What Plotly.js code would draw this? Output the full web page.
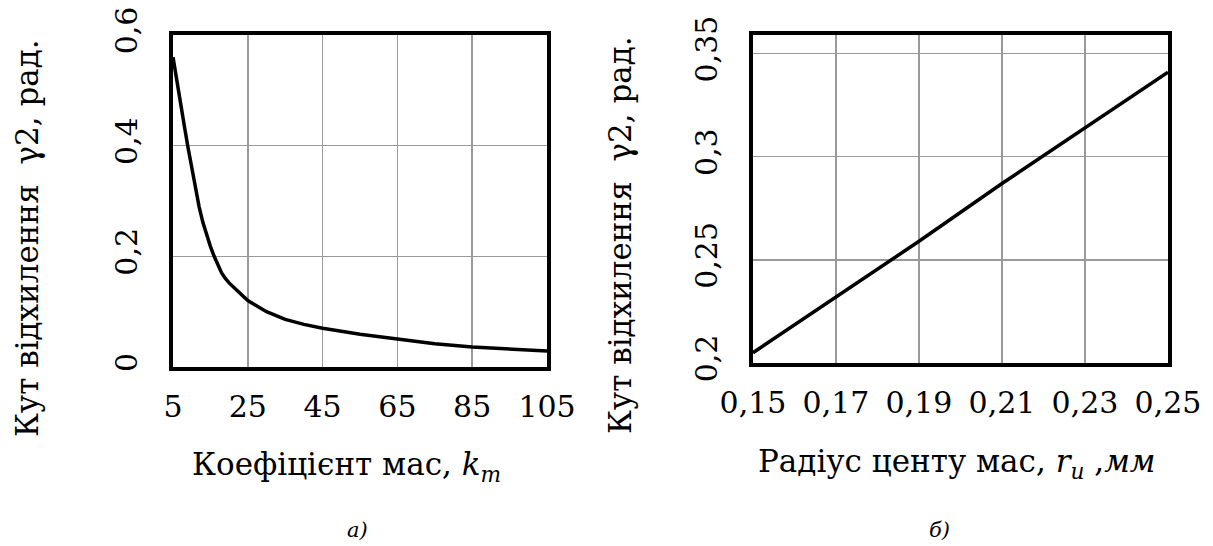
<!DOCTYPE html>
<html>
<head>
<meta charset="utf-8">
<script src="https://cdn.plot.ly/plotly-3.0.1.min.js"></script>
<style>html,body{margin:0;padding:0;background:#fff;}#chart{width:1213px;height:546px;}</style>
</head>
<body>
<div id="chart"></div>
<script>
// Left panel: deflection angle vs mass coefficient
const kmValues = [5, 6, 7, 8, 9, 10, 11, 12, 13, 14, 15, 16, 17, 18, 19, 20, 22, 25, 30, 35, 40, 45, 55, 65, 75, 85, 95, 105];
const gammaByKm = [0.56, 0.522, 0.479, 0.437, 0.397, 0.36, 0.323, 0.289, 0.261, 0.238, 0.218, 0.2, 0.183, 0.17, 0.16, 0.152, 0.139, 0.12, 0.1, 0.086, 0.077, 0.07, 0.059, 0.05, 0.042, 0.036, 0.032, 0.029];
// Right panel: deflection angle vs radius of centre of mass
const radiusValues = [0.15, 0.17, 0.19, 0.21, 0.23, 0.25];
const gammaByRadius = [0.205, 0.232, 0.259, 0.287, 0.314, 0.341];

// Tick labels
const leftXTicks = [5, 25, 45, 65, 85, 105];
const leftXLabels = ["5", "25", "45", "65", "85", "105"];
const leftYTicks = [0, 0.2, 0.4, 0.6];
const leftYLabels = ["0", "0,2", "0,4", "0,6"];
const rightXTicks = [0.15, 0.17, 0.19, 0.21, 0.23, 0.25];
const rightXLabels = ["0,15", "0,17", "0,19", "0,21", "0,23", "0,25"];
const rightYTicks = [0.2, 0.25, 0.3, 0.35];
const rightYLabels = ["0,2", "0,25", "0,3", "0,35"];

const W = 1213, H = 546;
const FONT = "DejaVu Serif";
const tickFont = {family: FONT, size: 30, color: "#000"};
const titleFont = {family: FONT, size: 31, color: "#000"};

function xAx(domain, range, vals, text) {
  return {
    domain: domain, range: range, tickvals: vals, ticktext: text,
    showgrid: true, gridcolor: "#9a9a9a", gridwidth: 1.5,
    showline: true, mirror: true, linecolor: "#000", linewidth: 4,
    zeroline: false, ticks: "", tickfont: tickFont, ticklabelstandoff: 10,
    fixedrange: true
  };
}
function yAx(domain, range, vals, text, anchor) {
  return {
    domain: domain, range: range, tickvals: vals, ticktext: text, anchor: anchor,
    showgrid: true, gridcolor: "#9a9a9a", gridwidth: 1.5,
    showline: true, mirror: true, linecolor: "#000", linewidth: 4,
    zeroline: false, ticks: "", tickfont: tickFont, tickangle: -90, ticklabelstandoff: 20,
    fixedrange: true
  };
}

const traces = [
  {x: kmValues, y: gammaByKm, xaxis: "x", yaxis: "y", type: "scatter", mode: "lines",
   line: {color: "#000", width: 3.5}, hoverinfo: "skip"},
  {x: radiusValues, y: gammaByRadius, xaxis: "x2", yaxis: "y2", type: "scatter", mode: "lines",
   line: {color: "#000", width: 3.5}, hoverinfo: "skip"}
];

const layout = {
  width: W, height: H,
  margin: {l: 0, r: 0, t: 0, b: 0},
  paper_bgcolor: "#fff", plot_bgcolor: "#fff",
  showlegend: false,
  font: {family: FONT},
  xaxis: Object.assign(xAx([173 / W, 547 / W], [5, 105], leftXTicks, leftXLabels), {anchor: "y"}),
  yaxis: yAx([(H - 367) / H, (H - 35) / H], [0, 0.6], leftYTicks, leftYLabels, "x"),
  xaxis2: Object.assign(xAx([753 / W, 1168 / W], [0.15, 0.25], rightXTicks, rightXLabels), {anchor: "y2"}),
  yaxis2: yAx([(H - 363) / H, (H - 35) / H], [0.2, 0.359], rightYTicks, rightYLabels, "x2"),
  annotations: [
    {text: "Кут відхилення  γ2, рад.", xref: "paper", yref: "paper", x: 27 / W, y: (H - 238) / H,
     textangle: -90, showarrow: false, font: titleFont, xanchor: "center", yanchor: "middle"},
    {text: "Кут відхилення  γ2, рад.", xref: "paper", yref: "paper", x: 620 / W, y: (H - 235) / H,
     textangle: -90, showarrow: false, font: titleFont, xanchor: "center", yanchor: "middle"},
    {text: "Коефіцієнт мас, <i>k<sub>m</sub></i>", xref: "paper", yref: "paper", x: 346 / W, y: (H - 466) / H,
     showarrow: false, font: titleFont, xanchor: "center", yanchor: "middle"},
    {text: "Радіус центу мас, <i>r<sub>u</sub></i> ,<i>мм</i>", xref: "paper", yref: "paper", x: 957 / W, y: (H - 463) / H,
     showarrow: false, font: titleFont, xanchor: "center", yanchor: "middle"},
    {text: "<i>а)</i>", xref: "paper", yref: "paper", x: 357 / W, y: (H - 530) / H,
     showarrow: false, font: {family: FONT, size: 21, color: "#000"}, xanchor: "center", yanchor: "middle"},
    {text: "<i>б)</i>", xref: "paper", yref: "paper", x: 940 / W, y: (H - 530) / H,
     showarrow: false, font: {family: FONT, size: 21, color: "#000"}, xanchor: "center", yanchor: "middle"}
  ]
};

Plotly.newPlot("chart", traces, layout, {staticPlot: true, displayModeBar: false});
</script>
</body>
</html>
